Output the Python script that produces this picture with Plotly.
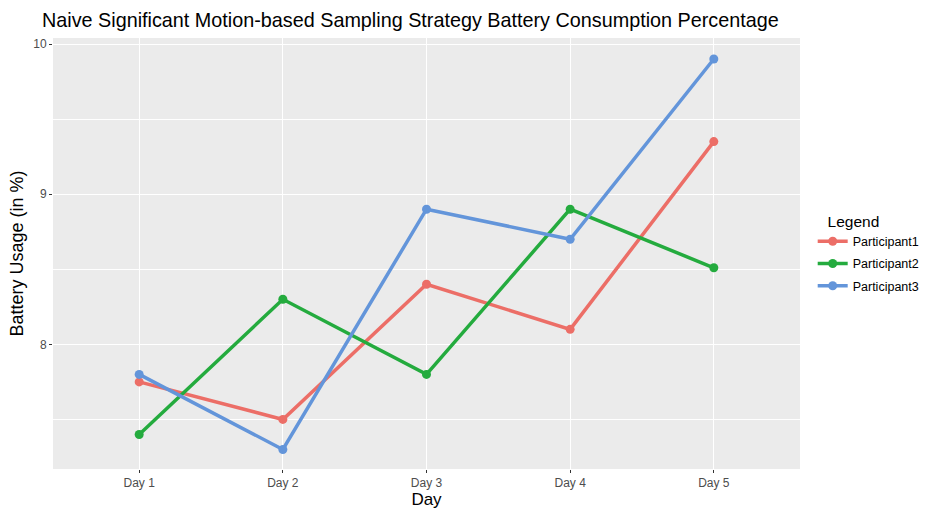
import plotly.graph_objects as go

days = ["Day 1", "Day 2", "Day 3", "Day 4", "Day 5"]
participant1 = [7.75, 7.5, 8.4, 8.1, 9.35]
participant2 = [7.4, 8.3, 7.8, 8.9, 8.51]
participant3 = [7.8, 7.3, 8.9, 8.7, 9.9]
series_names = ["Participant1", "Participant2", "Participant3"]
colors = ["#EC6E67", "#24AB3E", "#6395DA"]
y_ticks = [8, 9, 10]
y_minor = [7.5, 8.5, 9.5]

xpos = list(range(1, len(days) + 1))
fig = go.Figure()
for name, vals, c in zip(series_names, [participant1, participant2, participant3], colors):
    fig.add_trace(go.Scatter(x=xpos, y=vals, name=name, legendgroup=name,
                             mode="lines+markers",
                             line=dict(color=c, width=3.5),
                             marker=dict(color=c, size=9)))

fig.update_layout(
    width=927, height=510,
    paper_bgcolor="white", plot_bgcolor="#EBEBEB",
    margin=dict(l=53, r=127, t=38, b=41, autoexpand=False),
    font=dict(family="Liberation Sans, Arial, sans-serif", color="black"),
    title=dict(text="Naive Significant Motion-based Sampling Strategy Battery Consumption Percentage",
               x=42/927, xanchor="left", y=1-20/510, yanchor="middle", yref="container",
               font=dict(size=19.8, color="black")),
    legend=dict(title=dict(text="\u00a0\u00a0\u00a0Legend", font=dict(size=15.5)), x=1.017, xanchor="left",
                y=0.5, yanchor="middle", font=dict(size=12.5), bgcolor="white",
                tracegroupgap=3, itemwidth=30),
    xaxis=dict(tickvals=xpos, ticktext=days, range=[0.4, 5.6], automargin=False,
               showgrid=True, gridcolor="white", gridwidth=1.3, zeroline=False,
               ticks="outside", ticklen=3, tickcolor="#333333",
               tickfont=dict(size=12, color="#4D4D4D"),
               title=dict(text="Day", font=dict(size=17), standoff=2)),
    yaxis=dict(tickvals=y_ticks, range=[7.17, 10.04], automargin=False,
               showgrid=True, gridcolor="white", gridwidth=1.3, zeroline=False,
               ticks="outside", ticklen=3, tickcolor="#333333",
               tickfont=dict(size=12, color="#4D4D4D"),
               minor=dict(tickvals=y_minor, showgrid=True, gridcolor="white", gridwidth=0.6, ticks=""),
               title=dict(text="Battery Usage (in %)", font=dict(size=18), standoff=4)),
)
fig.write_html("out.html", post_script="document.body.style.margin='0';",
               config={"displayModeBar": False})
